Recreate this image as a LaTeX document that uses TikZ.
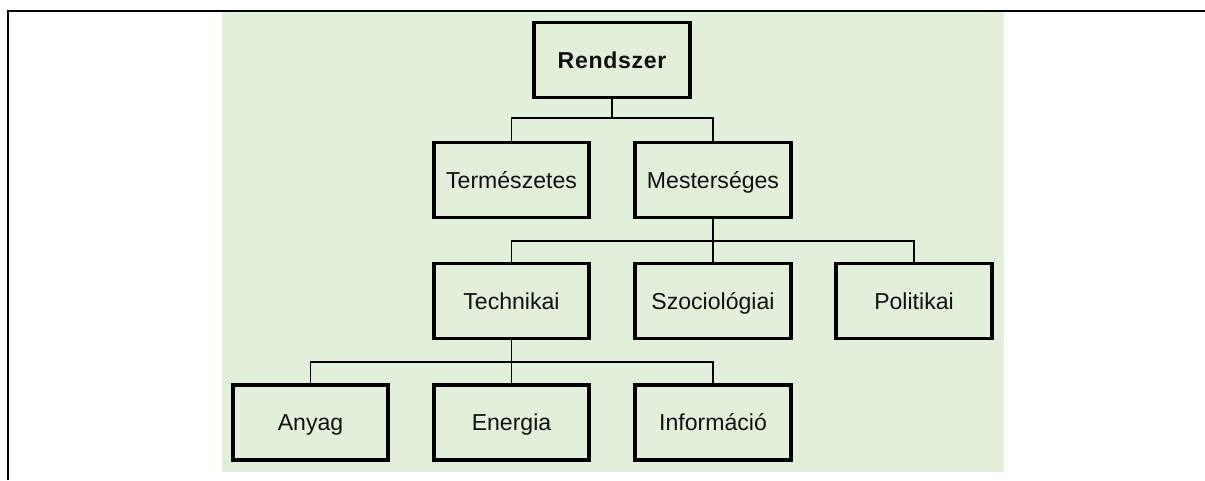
\documentclass[tikz,border=0pt]{standalone}
\usepackage{fontspec}
\setmainfont{Liberation Sans}
\definecolor{bggreen}{HTML}{E2EFDA}
\definecolor{txt}{HTML}{111111}
\begin{document}
\begin{tikzpicture}[x=0.75pt,y=-0.75pt,
  box/.style={draw=black,line width=2.7pt,fill=bggreen,rectangle,
    minimum width=116.6pt,minimum height=56.4pt,inner sep=0pt,
    text height=12.4pt,text depth=0pt,
    text=txt,font=\fontsize{17.3pt}{20pt}\selectfont},
  conn/.style={draw=black,line width=0.8pt}]
\useasboundingbox (0,0) rectangle (1205,480);
\fill[bggreen] (222,12) rectangle (1004,472);
\draw[line width=1.1pt] (8,480) -- (8,11) -- (1205,11);
\node[box,font=\fontsize{17.3pt}{20pt}\selectfont\bfseries\addfontfeature{LetterSpace=3}] (rend) at (612,60) {Rendszer};
\node[box] (nat) at (511.5,180) {Természetes};
\node[box] (mes) at (713,180) {Mesterséges};
\node[box] (tech) at (511.5,301) {Technikai};
\node[box] (szoc) at (713,301) {Szociológiai};
\node[box] (pol) at (914,301) {Politikai};
\node[box] (any) at (310.5,422.5) {Anyag};
\node[box] (ene) at (511.5,422.5) {Energia};
\node[box] (inf) at (713,422.5) {Információ};
\coordinate (j1) at (612,118);
\coordinate (j2) at (713,241);
\coordinate (j3) at (511.5,362);
\draw[conn] (rend.south) -- (j1);
\draw[conn] (j1) -| (nat.north);
\draw[conn] (j1) -| (mes.north);
\draw[conn] (mes.south) -- (szoc.north);
\draw[conn] (j2) -| (tech.north);
\draw[conn] (j2) -| (pol.north);
\draw[conn] (tech.south) -- (ene.north);
\draw[conn] (j3) -| (any.north);
\draw[conn] (j3) -| (inf.north);
\end{tikzpicture}
\end{document}
